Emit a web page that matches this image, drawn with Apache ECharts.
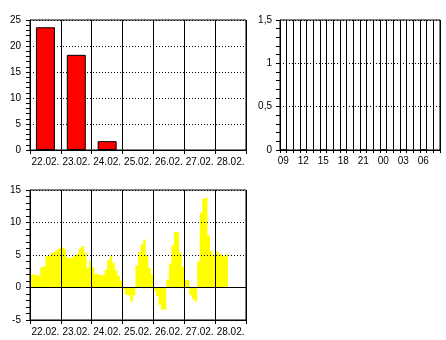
<!DOCTYPE html>
<html><head><meta charset="utf-8">
<script src="https://cdn.jsdelivr.net/npm/echarts@6/dist/echarts.min.js"></script>
<style>html,body{margin:0;padding:0;background:#fff}#c{width:446px;height:340px}</style>
</head><body><div id="c"></div>
<script>
// ---- data ----
const days = ['22.02.','23.02.','24.02.','25.02.','26.02.','27.02.','28.02.'];
const dailyTotals = [23.6, 18.3, 1.7, 0, 0, 0, 0];
const dailyTickLabels = ['0','5','10','15','20','25'];

const hours = ['09','10','11','12','13','14','15','16','17','18','19','20','21','22','23','00','01','02','03','04','05','06','07','08'];
const hourlyValues = [0,null,null,0,null,null,0,null,null,0,null,null,0,null,null,0,null,null,0,null,null,0,null,null];
const hourlyTickLabels = ['0','0,5','1','1,5'];

// 2-hourly values per day
const temp22 = [2.0, 2.0, 1.9, 1.7, 3.1, 3.4, 4.8, 4.9, 5.3, 5.6, 5.9, 6.2];
const temp23 = [6.1, 5.8, 4.6, 4.5, 4.8, 5.1, 5.3, 6.0, 6.4, 5.4, 3.0, 4.2];
const temp24 = [3.1, 2.1, 2.0, 1.8, 2.0, 2.7, 4.2, 4.8, 3.8, 2.6, 1.8, 1.0];
const temp25 = [-0.4, -1.1, -1.4, -2.2, -1.2, 3.4, 5.5, 6.6, 7.4, 5.0, 3.0, 2.0];
const temp26 = [-0.5, -1.3, -2.7, -3.4, -3.5, 1.2, 3.7, 6.5, 8.5, 8.5, 5.3, 3.2];
const temp27 = [1.2, 1.1, -1.2, -1.8, -2.2, 4.0, 11.5, 13.7, 13.9, 8.0, 5.6, 5.0];
const temp28 = [5.6, 5.2, 4.9, 4.7, 5.1];
const tempTickLabels = ['-5','0','5','10','15'];

// ---- build ----
const tempDays = [temp22, temp23, temp24, temp25, temp26, temp27, temp28];
const stepsPerDay = 12;
const tempSeries = [];
tempDays.forEach((arr, d) => arr.forEach((v, i) => tempSeries.push([d + i / stepsPerDay, v])));
const lastPt = tempSeries[tempSeries.length - 1];
tempSeries.push([lastPt[0] + 1 / stepsPerDay, lastPt[1]]);
// zero totals draw no bar
const dailyBars = dailyTotals.map(v => (v === 0 ? '-' : v));

const font = {fontFamily: 'Liberation Sans, Arial, sans-serif', fontSize: 10, color: '#000'};
const blk = {color: '#000', width: 1};
const dotted = {color: '#000', width: 1, type: [1, 2]};

const chart = echarts.init(document.getElementById('c'), null, {renderer: 'canvas'});
chart.setOption({
  animation: false,
  backgroundColor: '#fff',
  grid: [
    {left: 30, top: 20, width: 216, height: 130, show: true, borderColor: '#000', borderWidth: 1, backgroundColor: 'transparent'},
    {left: 280, top: 20, width: 160, height: 130, show: true, borderColor: '#000', borderWidth: 1, backgroundColor: 'transparent'},
    {left: 30, top: 190, width: 216, height: 130, show: true, borderColor: '#000', borderWidth: 1, backgroundColor: 'transparent'}
  ],
  xAxis: [
    {gridIndex: 0, type: 'category', data: days, boundaryGap: true,
     axisLine: {lineStyle: blk}, axisTick: {show: true, interval: 0, length: 4, lineStyle: blk},
     axisLabel: Object.assign({interval: 0, margin: 7}, font),
     splitLine: {show: true, interval: 0, lineStyle: blk}},
    {gridIndex: 1, type: 'category', data: hours, boundaryGap: true,
     axisLine: {lineStyle: blk}, axisTick: {show: true, interval: 0, length: 3, lineStyle: blk},
     axisLabel: Object.assign({interval: 2, margin: 6}, font),
     splitLine: {show: true, interval: 0, lineStyle: blk}},
    {gridIndex: 2, type: 'category', data: days, boundaryGap: true, position: 'bottom', z: 5,
     axisLine: {onZero: false, lineStyle: blk}, axisTick: {show: true, interval: 0, length: 4, lineStyle: blk},
     axisLabel: Object.assign({interval: 0, margin: 7}, font),
     splitLine: {show: true, interval: 0, lineStyle: blk}},
    {gridIndex: 2, type: 'value', min: 0, max: days.length, show: true, z: 5,
     axisLine: {show: true, onZero: true, lineStyle: blk}, axisTick: {show: false}, axisLabel: {show: false}, splitLine: {show: false}}
  ],
  yAxis: [
    {gridIndex: 0, type: 'value', min: 0, max: 25, interval: 5,
     axisLine: {show: true, lineStyle: blk}, axisTick: {show: true, length: 4, lineStyle: blk},
     minorTick: {show: true, splitNumber: 5, length: 4, lineStyle: blk},
     axisLabel: Object.assign({margin: 9, formatter: (v) => dailyTickLabels[Math.round(v / 5)]}, font),
     splitLine: {show: true, lineStyle: dotted}},
    {gridIndex: 1, type: 'value', min: 0, max: 1.5, interval: 0.5,
     axisLine: {show: true, lineStyle: blk}, axisTick: {show: true, length: 4, lineStyle: blk},
     minorTick: {show: true, splitNumber: 5, length: 4, lineStyle: blk},
     axisLabel: Object.assign({margin: 8, formatter: (v) => hourlyTickLabels[Math.round(v / 0.5)]}, font),
     splitLine: {show: true, lineStyle: dotted}},
    {gridIndex: 2, type: 'value', min: -5, max: 15, interval: 5, z: 5,
     axisLine: {show: true, onZero: false, lineStyle: blk}, axisTick: {show: true, length: 4, lineStyle: blk},
     minorTick: {show: true, splitNumber: 5, length: 4, lineStyle: blk},
     axisLabel: Object.assign({margin: 9, formatter: (v) => tempTickLabels[Math.round((v + 5) / 5)]}, font),
     splitLine: {show: true, lineStyle: dotted}}
  ],
  series: [
    {type: 'bar', xAxisIndex: 0, yAxisIndex: 0, data: dailyBars, barWidth: 19,
     itemStyle: {color: '#ff0000', borderColor: '#000', borderWidth: 1}},
    {type: 'bar', xAxisIndex: 1, yAxisIndex: 1, data: hourlyValues, barWidth: '100%',
     itemStyle: {color: 'transparent', borderColor: '#000', borderWidth: 1}},
    {type: 'line', xAxisIndex: 3, yAxisIndex: 2, data: tempSeries, step: 'end', z: 1,
     symbol: 'none', lineStyle: {width: 0, opacity: 0}, areaStyle: {color: '#ffff00', opacity: 1, origin: 0}}
  ]
});
</script>
</body></html>
